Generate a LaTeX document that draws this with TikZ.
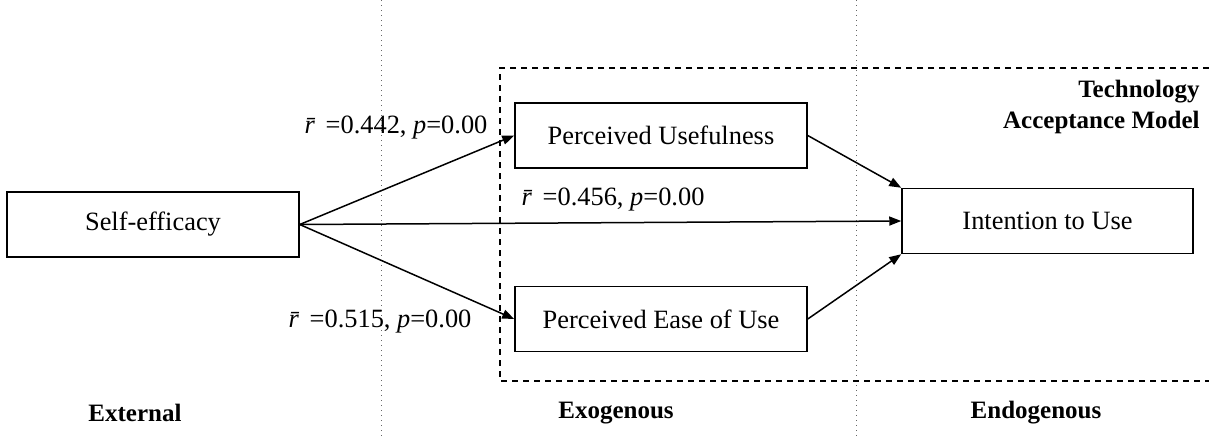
\documentclass[tikz,border=0pt]{standalone}
\usepackage{fontspec}
\setmainfont{Liberation Serif}
\usetikzlibrary{arrows.meta}
\newcommand{\rbar}{\textit{r\char"0304}}
\tikzset{
  box/.style={draw, line width=0.75pt, minimum width=146pt, minimum height=32.5pt, inner sep=0pt, font=\fontsize{13.2}{16}\selectfont},
  arr/.style={line width=0.75pt, -{Triangle[length=6pt, width=4.5pt]}},
  lbl/.style={font=\fontsize{13.2}{16}\selectfont, inner sep=0pt},
  head/.style={font=\fontsize{12.5}{15}\selectfont\bfseries, inner sep=0pt},
  sep/.style={line width=0.5pt, gray!80!black, dotted},
}
\begin{document}
\begin{tikzpicture}[x=0.5pt, y=-0.5pt]
\useasboundingbox (0,0) rectangle (1209,439);
\draw[sep] (381,0) -- (381,439);
\draw[sep] (856,0) -- (856,439);
\draw[line width=0.6pt, dash pattern=on 3pt off 2.5pt] (1209,68) -- (500,68) -- (500,381) -- (1209,381);
\node[box] (se) at (153,224.5) {Self-efficacy};
\node[box] (pu) at (661,135.5) {Perceived Usefulness};
\node[box] (peu) at (661,319) {Perceived Ease of Use};
\node[box, minimum width=145.5pt] (iu) at (1047.5,221) {Intention to Use};
\draw[arr] (se.east) -- (pu.west);
\draw[arr] (se.east) -- (iu.west);
\draw[arr] (se.east) -- (peu.west);
\draw[arr] (pu.east) -- (iu.north west);
\draw[arr] (peu.east) -- (iu.south west);
\node[lbl] (r1) at (396,128) {\rbar\,=0.442, \textit{p}=0.00};
\node[lbl] (r2) at (613,200) {\rbar\,=0.456, \textit{p}=0.00};
\node[lbl] (r3) at (380,322) {\rbar\,=0.515, \textit{p}=0.00};
\node[head, anchor=east] (tam1) at (1200,92) {Technology};
\node[head, anchor=east] (tam2) at (1200,122) {Acceptance Model};
\node[head] (ext) at (135,413) {External};
\node[head] (exo) at (616,413) {Exogenous};
\node[head] (endo) at (1036,413) {Endogenous};
\end{tikzpicture}
\end{document}
